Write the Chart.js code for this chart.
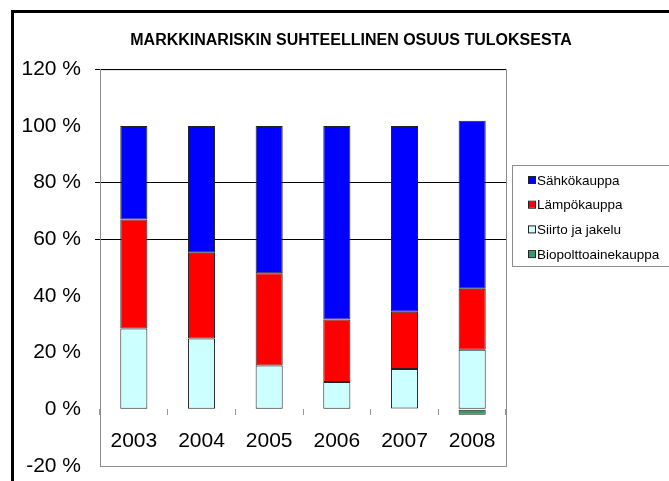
<!DOCTYPE html>
<html>
<head>
<meta charset="utf-8">
<script src="https://cdn.jsdelivr.net/npm/chart.js@4/dist/chart.umd.min.js"></script>
<style>
  html, body { margin: 0; padding: 0; background: #fff; }
  canvas { display: block; }
</style>
</head>
<body>
<canvas id="chartRiski" width="669" height="481"></canvas>
<script>
// Markkinariskin suhteellinen osuus tuloksesta, %
const vuodet = ['2003', '2004', '2005', '2006', '2007', '2008'];
const bioPolttoaine = [0, 0, 0, 0, 0.3, -1.9];
const siirtoJakelu = [28.5, 25, 15.5, 9.6, 13.9, 21];
const lampokauppa = [38.5, 30.2, 32.5, 22.1, 20.2, 21.5];
const sahkokauppa = [33, 44.8, 52, 68.3, 65.6, 59.3];
const yTicks = [-20, 0, 20, 40, 60, 80, 100, 120];
const viivat = [60, 80, 120];

// kehykset ja selite piirretään käsin
const kehys = {
    id: 'kehys',
    beforeDraw(chart) {
        const c = chart.ctx;
        const a = chart.chartArea;
        c.save();
        c.fillStyle = '#000';
        c.fillRect(11, 10, 3, chart.height - 10);
        c.fillRect(11, 10, chart.width - 11, 3);
        c.strokeStyle = '#8c8c8c';
        c.lineWidth = 1;
        c.strokeRect(a.left + 0.5, a.top + 0.5, a.right - a.left, a.bottom - a.top);
        c.restore();
    },
    afterDraw(chart) {
        const c = chart.ctx;
        const a = chart.chartArea;
        const x0 = a.right + 6;
        const y0 = 165;
        c.save();
        c.strokeStyle = '#8c8c8c';
        c.lineWidth = 1;
        c.strokeRect(x0 + 0.5, y0 + 0.5, 200, 101);
        c.font = '13.5px "Liberation Sans", Arial, sans-serif';
        c.textBaseline = 'middle';
        const sarjat = chart.data.datasets.slice().reverse();
        sarjat.forEach((ds, i) => {
            const y = y0 + 15 + i * 24.7;
            c.fillStyle = ds.backgroundColor;
            c.fillRect(x0 + 17, y - 3, 6, 6);
            c.strokeStyle = '#222';
            c.strokeRect(x0 + 16.5, y - 3.5, 7, 7);
            c.fillStyle = '#000';
            c.fillText(ds.label, x0 + 25, y + 1);
        });
        c.restore();
    }
};

new Chart(document.getElementById('chartRiski').getContext('2d'), {
    type: 'bar',
    data: {
        labels: vuodet,
        datasets: [
            { label: 'Biopolttoainekauppa', data: bioPolttoaine, backgroundColor: '#339966' },
            { label: 'Siirto ja jakelu', data: siirtoJakelu, backgroundColor: '#ccffff' },
            { label: 'Lämpökauppa', data: lampokauppa, backgroundColor: '#ff0000' },
            { label: 'Sähkökauppa', data: sahkokauppa, backgroundColor: '#0000ff' }
        ].map(ds => Object.assign(ds, {
            borderColor: '#222',
            borderWidth: 1,
            borderSkipped: false,
            categoryPercentage: 1,
            barPercentage: 0.4
        }))
    },
    options: {
        responsive: false,
        animation: false,
        layout: { padding: { left: 12, right: -21, top: 0, bottom: 15 } },
        plugins: {
            legend: { display: false },
            tooltip: { enabled: false },
            title: {
                display: true,
                text: 'MARKKINARISKIN SUHTEELLINEN OSUUS TULOKSESTA',
                color: '#000',
                font: { family: '"Liberation Sans", Arial, sans-serif', size: 16, weight: 'bold' },
                padding: { top: 31, bottom: 19 }
            }
        },
        scales: {
            x: {
                stacked: true,
                position: { y: 0 },
                afterFit: s => {
                    s.height = 0;
                    s.paddingTop = s.paddingBottom = s.paddingLeft = s.paddingRight = 0;
                },
                border: { display: false },
                grid: {
                    offset: true,
                    drawOnChartArea: false,
                    drawTicks: true,
                    tickLength: 6,
                    color: '#999'
                },
                ticks: {
                    color: '#000',
                    padding: 13,
                    font: { family: '"Liberation Sans", Arial, sans-serif', size: 21 }
                }
            },
            y: {
                stacked: true,
                min: -20,
                max: 120,
                afterBuildTicks: s => { s.ticks = yTicks.map(v => ({ value: v })); },
                afterFit: s => { s.width = 88; s.paddingBottom = 0; },
                border: { color: '#8c8c8c' },
                grid: {
                    color: ctx => viivat.includes(ctx.tick && ctx.tick.value) ? '#000' : 'rgba(0,0,0,0)',
                    tickLength: 5
                },
                ticks: {
                    color: '#000',
                    padding: 14,
                    font: { family: '"Liberation Sans", Arial, sans-serif', size: 21 },
                    callback: v => v + ' %'
                }
            },
            tila: {
                type: 'linear',
                position: 'right',
                afterFit: s => { s.width = 184; },
                border: { display: false },
                grid: { display: false },
                ticks: { display: false }
            }
        }
    },
    plugins: [kehys]
});
</script>
</body>
</html>
